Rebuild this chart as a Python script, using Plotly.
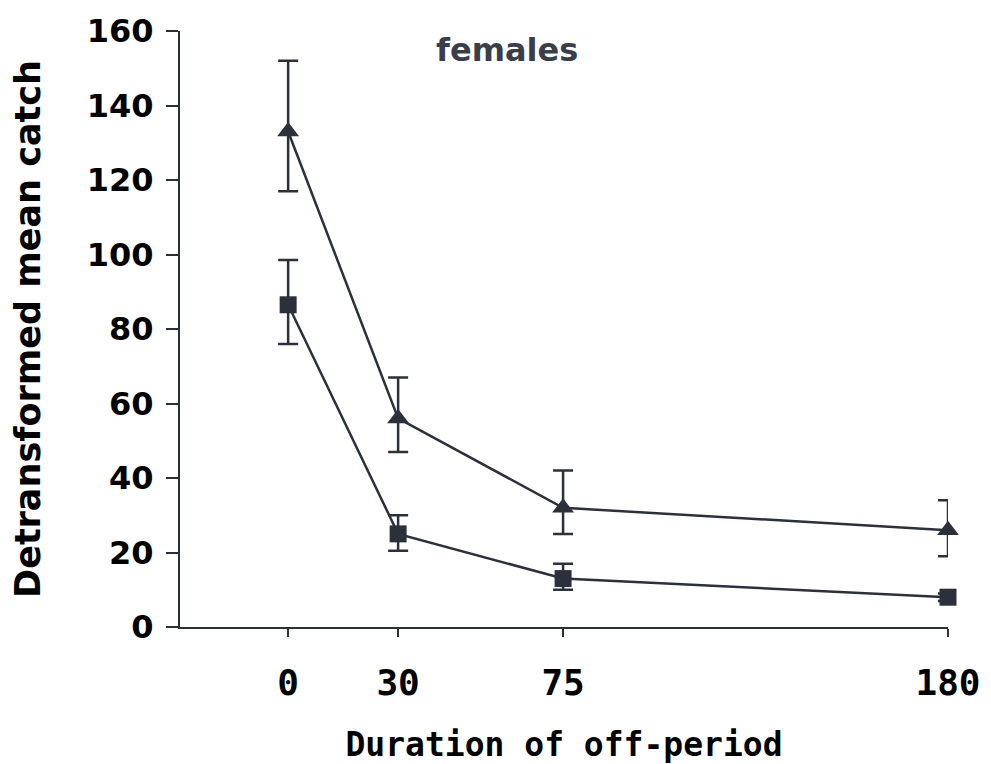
import plotly.graph_objects as go

# Data
durations = [0, 30, 75, 180]
x_tick_labels = ["0", "30", "75", "180"]
y_tick_vals = [0, 20, 40, 60, 80, 100, 120, 140, 160]

tri_mean = [133, 56, 32, 26]
tri_upper = [152, 67, 42, 34]
tri_lower = [117, 47, 25, 19]

sq_mean = [86.5, 25, 13, 8]
sq_upper = [98.5, 30, 17, 9]
sq_lower = [76, 20.5, 10, 7]

INK = "#2c303b"

def err(mean, upper, lower):
    return ([u - m for u, m in zip(upper, mean)], [m - l for m, l in zip(mean, lower)])

tri_plus, tri_minus = err(tri_mean, tri_upper, tri_lower)
sq_plus, sq_minus = err(sq_mean, sq_upper, sq_lower)

fig = go.Figure()
fig.add_trace(go.Scatter(
    x=durations, y=tri_mean, mode="lines+markers",
    line=dict(color=INK, width=2.5),
    marker=dict(symbol="triangle-up", size=19, color=INK),
    error_y=dict(type="data", array=tri_plus, arrayminus=tri_minus,
                 color=INK, thickness=2.5, width=10),
    cliponaxis=False, showlegend=False,
))
fig.add_trace(go.Scatter(
    x=durations, y=sq_mean, mode="lines+markers",
    line=dict(color=INK, width=2.5),
    marker=dict(symbol="square", size=17, color=INK),
    error_y=dict(type="data", array=sq_plus, arrayminus=sq_minus,
                 color=INK, thickness=2.5, width=10),
    cliponaxis=False, showlegend=False,
))

fig.add_annotation(
    text="females", xref="paper", yref="paper", x=0.426, y=0.968,
    showarrow=False, xanchor="center", yanchor="middle",
    font=dict(family="DejaVu Sans", size=32, color="#3a3e4a", weight="bold"),
)

fig.update_layout(
    width=991, height=764,
    margin=dict(l=180, r=43, t=31, b=137),
    paper_bgcolor="white", plot_bgcolor="white",
    xaxis=dict(
        range=[-29.5, 180], tickvals=durations, ticktext=x_tick_labels,
        automargin=False,
        showgrid=False, zeroline=False, showline=True, linecolor=INK, linewidth=2,
        ticks="outside", ticklen=8, tickwidth=2, tickcolor=INK,
        ticklabelstandoff=15,
        tickfont=dict(family="DejaVu Sans Mono", size=36, color="black", weight="bold"),
        title=dict(text="Duration of off-period", standoff=34,
                   font=dict(family="DejaVu Sans Mono", size=33, color="black", weight="bold")),
    ),
    yaxis=dict(
        range=[0, 160], tickvals=y_tick_vals,
        automargin=False,
        showgrid=False, zeroline=False, showline=True, linecolor=INK, linewidth=2,
        ticks="outside", ticklen=12, tickwidth=2, tickcolor=INK,
        ticklabelstandoff=6,
        tickfont=dict(family="DejaVu Sans", size=32, color="black", weight="bold"),
        title=dict(text="Detransformed mean catch", standoff=36,
                   font=dict(family="DejaVu Sans", size=35, color="black", weight="bold")),
    ),
)

fig.write_html("out.html")
